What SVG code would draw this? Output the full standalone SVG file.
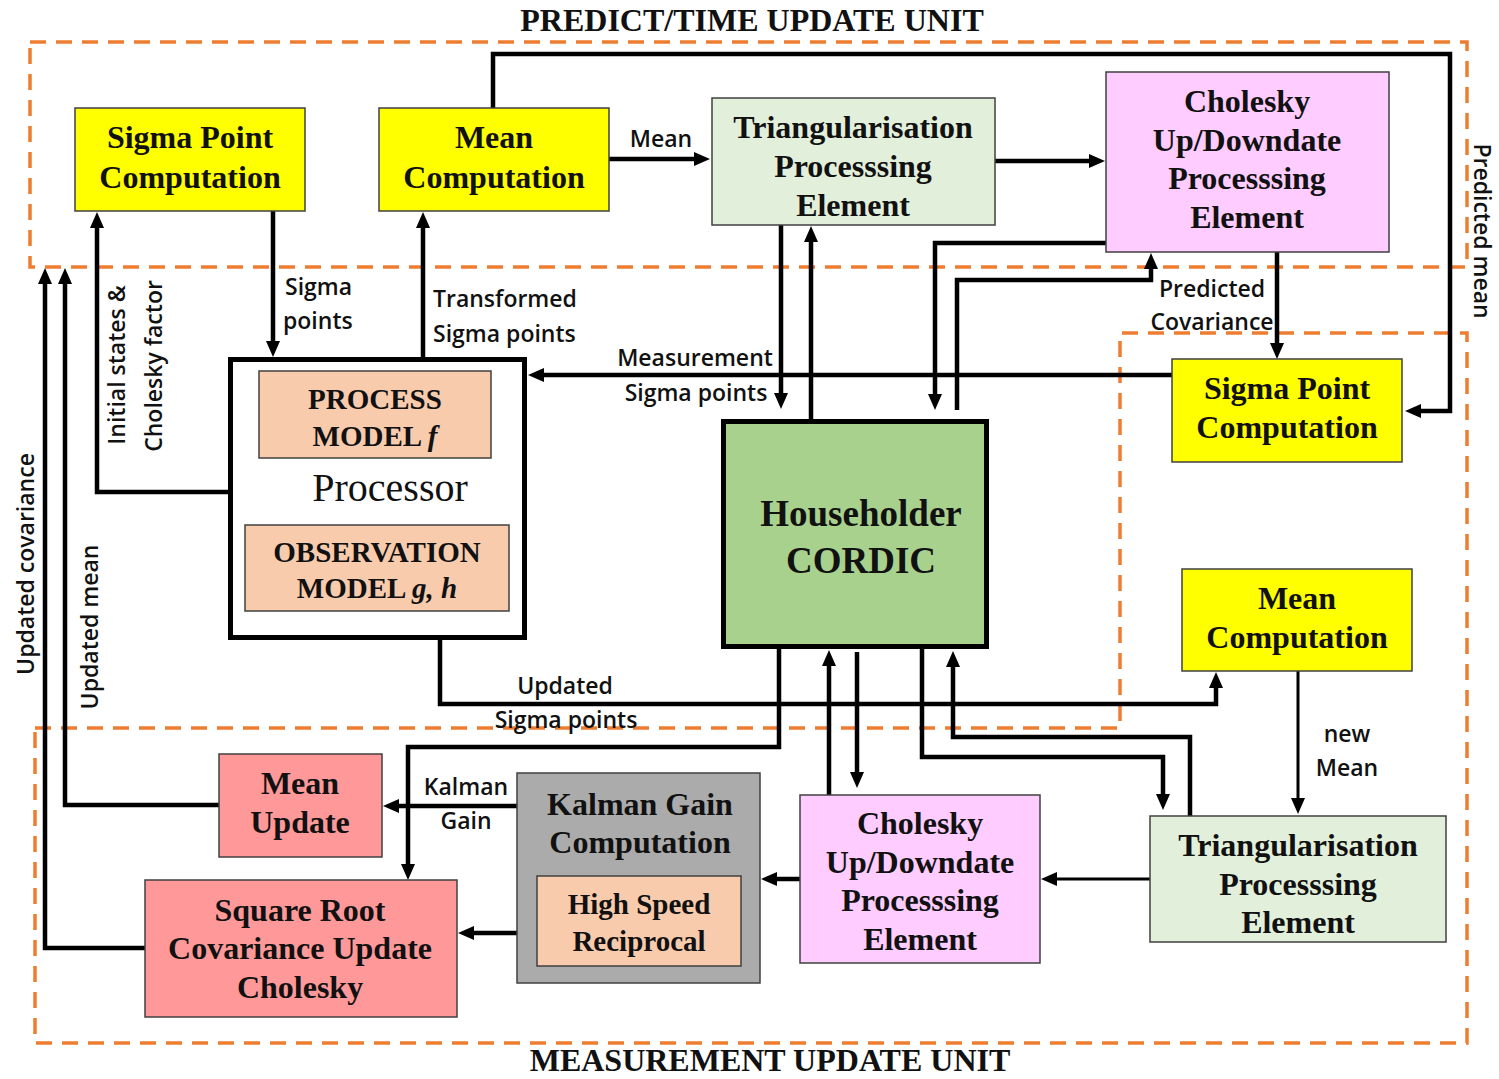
<svg xmlns="http://www.w3.org/2000/svg" width="1499" height="1079" viewBox="0 0 1499 1079">
<style>
.bg{fill:#ffffff}
.zone{fill:none;stroke:#ED7D31;stroke-width:3.5;stroke-dasharray:16 10}
.box{stroke:#404040;stroke-width:1.5}
.thick{stroke:#000;stroke-width:5}
.yel{fill:#FFFF00}
.grn{fill:#E2EFDA}
.pnk{fill:#FFCCFF}
.sal{fill:#F8CBAD}
.red{fill:#FF9999}
.gry{fill:#ABABAB}
.hh{fill:#A9D18E}
.t{font-family:"Liberation Serif","Times New Roman",serif;font-weight:bold;font-size:32px;fill:#111;text-anchor:middle}
.ts{font-size:29px}
.tl{font-size:37px}
.proc{font-family:"Liberation Serif","Times New Roman",serif;font-size:40px;fill:#111;text-anchor:middle}
.title{font-family:"Liberation Serif","Times New Roman",serif;font-weight:bold;font-size:32px;fill:#111;text-anchor:middle}
.lb{font-family:"Open Sans","Noto Sans",sans-serif;font-weight:600;font-size:23px;fill:#111}
.mid{text-anchor:middle}
.c{fill:none;stroke:#000;stroke-width:4.5;stroke-linejoin:miter}
.cn{fill:none;stroke:#000;stroke-width:3}
</style>
<defs>
<marker id="ah" viewBox="0 0 16 14" markerWidth="16" markerHeight="14" refX="4" refY="7" orient="auto" markerUnits="userSpaceOnUse">
<path d="M0,0 L16,7 L0,14 z" fill="#000"/>
</marker>
</defs>
<rect class="bg" x="0" y="0" width="1499" height="1079"/>

<g id="zones">
<rect class="zone" x="30" y="42" width="1437" height="225"/>
<path class="zone" d="M35,728 H1120 V333 H1467 V1043 H35 Z"/>
<text class="title" x="752" y="31">PREDICT/TIME UPDATE UNIT</text>
<text class="title" x="770" y="1071">MEASUREMENT UPDATE UNIT</text>
</g>

<g id="connectors">
<path class="c" d="M493,108 V54 H1450 V411 H1417" marker-end="url(#ah)"/>
<path class="c" d="M609,159 H698" marker-end="url(#ah)"/>
<path class="c" d="M995,161 H1093" marker-end="url(#ah)"/>
<path class="c" d="M273,211 V345" marker-end="url(#ah)"/>
<path class="c" d="M423,357 V224" marker-end="url(#ah)"/>
<path class="c" d="M228,492 H97 V224" marker-end="url(#ah)"/>
<path class="c" d="M145,948 H45 V280" marker-end="url(#ah)"/>
<path class="c" d="M219,805 H65 V280" marker-end="url(#ah)"/>
<path class="c" d="M1172,375 H540" marker-end="url(#ah)"/>
<path class="c" d="M781,225 V397" marker-end="url(#ah)"/>
<path class="c" d="M811,419 V238" marker-end="url(#ah)"/>
<path class="c" d="M1106,243 H935 V398" marker-end="url(#ah)"/>
<path class="c" d="M957,410 V280 H1153 M1151,282 V265" marker-end="url(#ah)"/>
<path class="c" d="M1277,252 V347" marker-end="url(#ah)"/>
<path class="c" d="M440,640 V704 H1216 V684" marker-end="url(#ah)"/>
<path class="c" d="M779,649 V747 H408 V868" marker-end="url(#ah)"/>
<path class="c" d="M829,795 V662" marker-end="url(#ah)"/>
<path class="c" d="M857,652 V776" marker-end="url(#ah)"/>
<path class="c" d="M922,649 V757 H1163 V798" marker-end="url(#ah)"/>
<path class="c" d="M1190,816 V737 H953 V663" marker-end="url(#ah)"/>
<path class="cn" d="M1298,671 V802" marker-end="url(#ah)"/>
<path class="cn" d="M1150,879 H1053" marker-end="url(#ah)"/>
<path class="c" d="M800,879 H773" marker-end="url(#ah)"/>
<path class="c" d="M517,806 H395" marker-end="url(#ah)"/>
<path class="c" d="M517,933 H470" marker-end="url(#ah)"/>

<text class="lb mid" x="661" y="147">Mean</text>
<text class="lb" x="285" y="295">Sigma</text>
<text class="lb" x="283" y="329">points</text>
<text class="lb" x="433" y="307">Transformed</text>
<text class="lb" x="433" y="342">Sigma points</text>
<text class="lb mid" x="695" y="366">Measurement</text>
<text class="lb mid" x="696" y="401">Sigma points</text>
<text class="lb mid" x="1212" y="297">Predicted</text>
<text class="lb mid" x="1212" y="330">Covariance</text>
<text class="lb mid" x="565" y="694">Updated</text>
<text class="lb mid" x="566" y="728">Sigma points</text>
<text class="lb mid" x="1347" y="742">new</text>
<text class="lb mid" x="1347" y="776">Mean</text>
<text class="lb mid" x="466" y="795">Kalman</text>
<text class="lb mid" x="466" y="829">Gain</text>
<text class="lb mid" transform="translate(125,365) rotate(-90)">Initial states &amp;</text>
<text class="lb mid" transform="translate(162,366) rotate(-90)">Cholesky factor</text>
<text class="lb mid" transform="translate(34,564) rotate(-90)">Updated covariance</text>
<text class="lb mid" transform="translate(98,627) rotate(-90)">Updated mean</text>
<text class="lb mid" transform="translate(1474,231) rotate(90)">Predicted mean</text>
</g>

<g id="sigma-point-top">
<rect class="box yel" x="75" y="108" width="230" height="103"/>
<text class="t" x="190" y="148">Sigma Point</text>
<text class="t" x="190" y="188">Computation</text>
</g>

<g id="mean-computation-top">
<rect class="box yel" x="379" y="108" width="230" height="103"/>
<text class="t" x="494" y="148">Mean</text>
<text class="t" x="494" y="188">Computation</text>
</g>

<g id="triangularisation-top">
<rect class="box grn" x="712" y="98" width="283" height="127" stroke="#7f7f7f"/>
<text class="t" x="853" y="138">Triangularisation</text>
<text class="t" x="853" y="177">Processsing</text>
<text class="t" x="853" y="216">Element</text>
</g>

<g id="cholesky-top">
<rect class="box pnk" x="1106" y="72" width="283" height="180"/>
<text class="t" x="1247" y="112">Cholesky</text>
<text class="t" x="1247" y="151">Up/Downdate</text>
<text class="t" x="1247" y="189">Processsing</text>
<text class="t" x="1247" y="228">Element</text>
</g>

<g id="processor">
<rect class="thick" fill="#ffffff" x="230.5" y="359.5" width="294" height="278"/>
<rect class="box sal" x="259" y="371" width="232" height="87"/>
<text class="t ts" x="375" y="409">PROCESS</text>
<text class="t ts" x="375" y="446">MODEL <tspan font-style="italic">f</tspan></text>
<text class="proc" x="390" y="501">Processor</text>
<rect class="box sal" x="245" y="525" width="264" height="86"/>
<text class="t ts" x="377" y="562">OBSERVATION</text>
<text class="t ts" x="377" y="598">MODEL <tspan font-style="italic">g, h</tspan></text>
</g>

<g id="householder-cordic">
<rect class="thick hh" x="723.5" y="421.5" width="263" height="225"/>
<text class="t tl" x="861" y="526">Householder</text>
<text class="t tl" x="861" y="573">CORDIC</text>
</g>

<g id="sigma-point-right">
<rect class="box yel" x="1172" y="359" width="230" height="103"/>
<text class="t" x="1287" y="399">Sigma Point</text>
<text class="t" x="1287" y="438">Computation</text>
</g>

<g id="mean-computation-right">
<rect class="box yel" x="1182" y="569" width="230" height="102"/>
<text class="t" x="1297" y="609">Mean</text>
<text class="t" x="1297" y="648">Computation</text>
</g>

<g id="mean-update">
<rect class="box red" x="219" y="754" width="163" height="103"/>
<text class="t" x="300" y="794">Mean</text>
<text class="t" x="300" y="833">Update</text>
</g>

<g id="square-root-covariance">
<rect class="box red" x="145" y="880" width="312" height="137"/>
<text class="t" x="300" y="921">Square Root</text>
<text class="t" x="300" y="959">Covariance Update</text>
<text class="t" x="300" y="998">Cholesky</text>
</g>

<g id="kalman-gain">
<rect class="box gry" x="517" y="773" width="243" height="210"/>
<text class="t" x="640" y="815">Kalman Gain</text>
<text class="t" x="640" y="853">Computation</text>
<rect class="box sal" x="537" y="876" width="204" height="90"/>
<text class="t ts" x="639" y="914">High Speed</text>
<text class="t ts" x="639" y="951">Reciprocal</text>
</g>

<g id="cholesky-bottom">
<rect class="box pnk" x="800" y="795" width="240" height="168"/>
<text class="t" x="920" y="834">Cholesky</text>
<text class="t" x="920" y="873">Up/Downdate</text>
<text class="t" x="920" y="911">Processsing</text>
<text class="t" x="920" y="950">Element</text>
</g>

<g id="triangularisation-bottom">
<rect class="box grn" x="1150" y="816" width="296" height="126" stroke="#7f7f7f"/>
<text class="t" x="1298" y="856">Triangularisation</text>
<text class="t" x="1298" y="895">Processsing</text>
<text class="t" x="1298" y="933">Element</text>
</g>
</svg>
